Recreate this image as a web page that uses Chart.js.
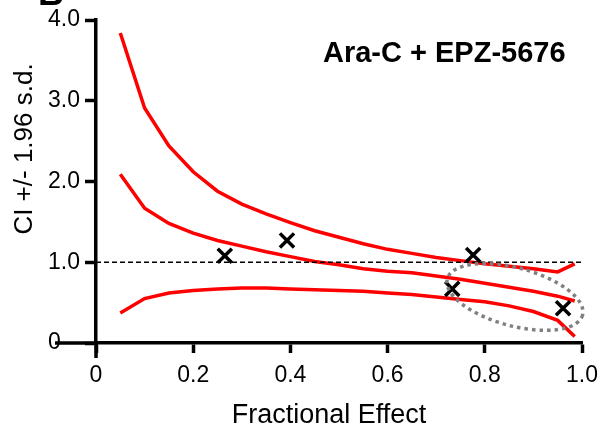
<!DOCTYPE html>
<html>
<head>
<meta charset="utf-8">
<script src="https://cdn.jsdelivr.net/npm/chart.js@4/dist/chart.umd.min.js"></script>
<style>
  html, body { margin: 0; background: #fff; }
</style>
</head>
<body>
<canvas id="chart" width="600" height="437"></canvas>
<script>
// fractional effect grid for the fitted curves
const fa = [0.05, 0.10, 0.15, 0.20, 0.25, 0.30, 0.35, 0.40, 0.45, 0.50,
            0.55, 0.60, 0.65, 0.70, 0.75, 0.80, 0.85, 0.90, 0.95, 0.985];
const upperCI = [3.84, 2.91, 2.44, 2.12, 1.88, 1.72, 1.60, 1.49, 1.39, 1.31,
                 1.23, 1.16, 1.11, 1.06, 1.02, 0.98, 0.95, 0.92, 0.88, 0.98];
const meanCI  = [2.09, 1.67, 1.48, 1.36, 1.27, 1.20, 1.13, 1.07, 1.01, 0.97,
                 0.92, 0.89, 0.87, 0.83, 0.79, 0.74, 0.69, 0.64, 0.58, 0.52];
const lowerCI = [0.37, 0.55, 0.62, 0.65, 0.67, 0.68, 0.68, 0.67, 0.66, 0.65,
                 0.64, 0.62, 0.60, 0.57, 0.54, 0.51, 0.46, 0.39, 0.28, 0.08];
// measured combinations
const obsFa = [0.265, 0.393, 0.733, 0.776, 0.961];
const obsCI = [1.08, 1.27, 0.67, 1.09, 0.43];
const additiveLine = [1.0, 1.0];
const additiveFa = [0, 1];

const FONT = "'Liberation Sans', Arial, Helvetica, sans-serif";
const RED = '#ff0000';

const pts = (xs, ys) => xs.map((x, i) => ({ x: x, y: ys[i] }));

// axis stubs, titles, and the dotted ellipse around the high-effect points
const decorations = {
  id: 'decorations',
  beforeDraw(chart) {
    const ctx = chart.ctx;
    ctx.save();
    ctx.fillStyle = '#fff';
    ctx.fillRect(0, 0, chart.width, chart.height);
    ctx.restore();
  },
  afterDatasetsDraw(chart) {
    const ctx = chart.ctx;
    const xs = chart.scales.x, ys = chart.scales.y;
    ctx.save();
    // dotted ellipse
    const cx = xs.getPixelForValue(0.862), cy = ys.getPixelForValue(0.57);
    ctx.beginPath();
    ctx.ellipse(cx, cy, 70, 29, 15 * Math.PI / 180, 0, Math.PI * 2);
    ctx.strokeStyle = '#808080';
    ctx.lineWidth = 3.5;
    ctx.setLineDash([3.5, 4]);
    ctx.stroke();
    ctx.restore();
  },
  afterDraw(chart) {
    const ctx = chart.ctx;
    const xs = chart.scales.x, ys = chart.scales.y;
    const x0 = xs.getPixelForValue(0), y0 = ys.getPixelForValue(0);
    ctx.save();
    ctx.strokeStyle = '#000';
    ctx.lineWidth = 3.5;
    ctx.beginPath();
    ctx.moveTo(x0 - 41, y0);
    ctx.lineTo(x0, y0);
    ctx.moveTo(x0, y0);
    ctx.lineTo(x0, y0 + 15);
    ctx.stroke();

    ctx.fillStyle = '#000';
    ctx.font = '27px ' + FONT;
    ctx.textAlign = 'center';
    ctx.textBaseline = 'alphabetic';
    ctx.fillText('Fractional Effect', 329, 423);

    ctx.save();
    ctx.translate(32, 149);
    ctx.rotate(-Math.PI / 2);
    ctx.font = '26px ' + FONT;
    ctx.fillText('CI +/- 1.96 s.d.', 0, 0);
    ctx.restore();

    ctx.textAlign = 'left';
    ctx.font = 'bold 29px ' + FONT;
    ctx.fillText('Ara-C + EPZ-5676', 323, 62);

    ctx.font = 'bold 36px ' + FONT;
    ctx.fillText('B', 38, 5);
    ctx.restore();
  }
};

new Chart(document.getElementById('chart'), {
  type: 'scatter',
  data: {
    datasets: [
      {
        label: 'Observed',
        data: pts(obsFa, obsCI),
        pointStyle: 'crossRot',
        pointRadius: 10,
        pointBorderWidth: 3.5,
        borderColor: '#000',
        backgroundColor: '#000',
        showLine: false
      },
      {
        label: 'Additive',
        data: pts(additiveFa, additiveLine),
        showLine: true,
        borderColor: '#000',
        borderWidth: 1.5,
        borderDash: [5, 3],
        pointRadius: 0
      },
      {
        label: 'Upper',
        data: pts(fa, upperCI),
        showLine: true,
        borderColor: RED,
        borderWidth: 3.5,
        pointRadius: 0,
        tension: 0
      },
      {
        label: 'CI',
        data: pts(fa, meanCI),
        showLine: true,
        borderColor: RED,
        borderWidth: 3.5,
        pointRadius: 0,
        tension: 0
      },
      {
        label: 'Lower',
        data: pts(fa, lowerCI),
        showLine: true,
        borderColor: RED,
        borderWidth: 3.5,
        pointRadius: 0,
        tension: 0
      }
    ]
  },
  options: {
    responsive: false,
    animation: false,
    devicePixelRatio: 1,
    layout: { padding: { left: 0, right: 18, top: 20, bottom: 0 } },
    plugins: {
      legend: { display: false },
      tooltip: { enabled: false },
      title: { display: false }
    },
    scales: {
      x: {
        type: 'linear',
        min: 0,
        max: 1,
        afterFit(scale) { scale.height = 94; scale.paddingRight = 0; scale.paddingLeft = 0; },
        border: { display: true, color: '#000', width: 3.5 },
        grid: { drawOnChartArea: false, drawTicks: true, tickLength: 10, tickWidth: 3.5, tickColor: '#000' },
        ticks: {
          stepSize: 0.2,
          color: '#000',
          padding: 9,
          maxRotation: 0,
          font: { family: FONT, size: 23 },
          callback: v => v === 0 ? '0' : v.toFixed(1)
        }
      },
      y: {
        type: 'linear',
        min: 0,
        max: 4,
        afterFit(scale) { scale.width = 96; },
        border: { display: true, color: '#000', width: 3.5 },
        grid: { drawOnChartArea: false, drawTicks: true, tickLength: 11, tickWidth: 3.5, tickColor: '#000' },
        ticks: {
          stepSize: 1,
          color: '#000',
          padding: 5,
          font: { family: FONT, size: 23 },
          callback: v => v === 0 ? '0   ' : v.toFixed(1)
        }
      }
    }
  },
  plugins: [decorations]
});
</script>
</body>
</html>
